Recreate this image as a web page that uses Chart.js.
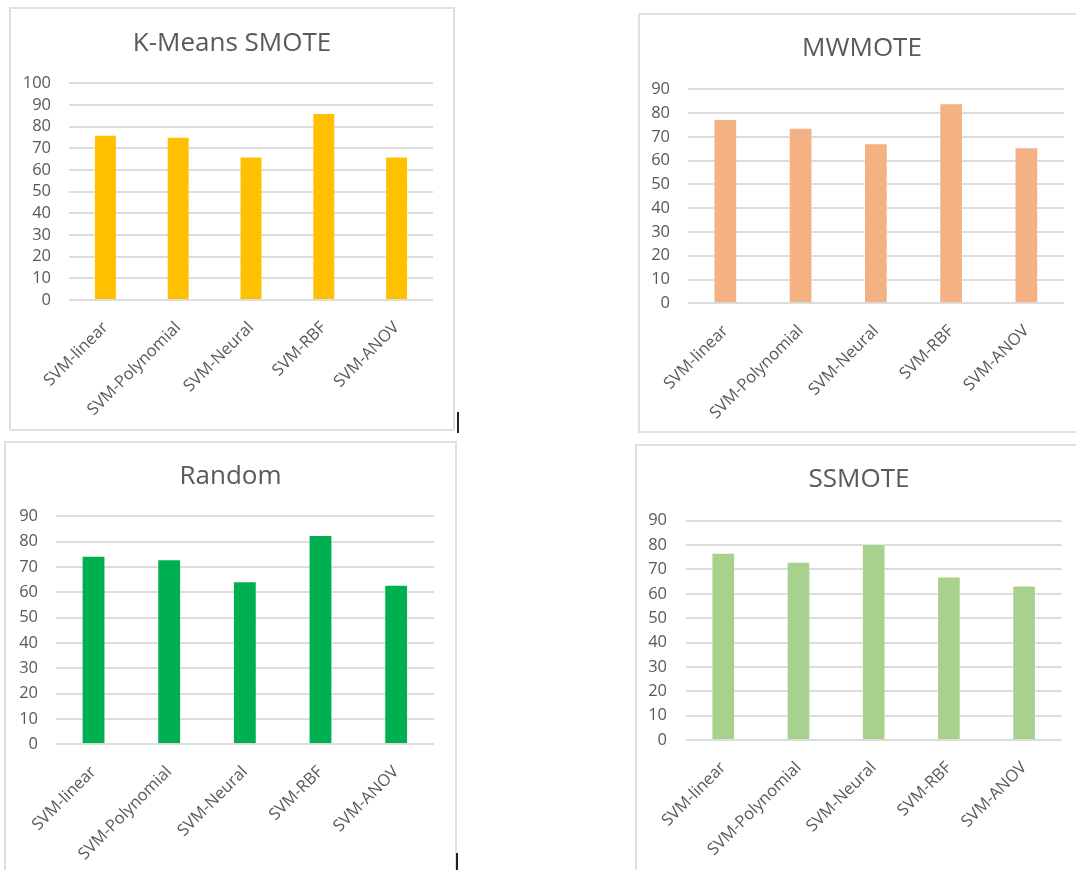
<!DOCTYPE html>
<html>
<head>
<meta charset="utf-8">
<title>SVM kernels by oversampling method</title>
<script src="https://cdn.jsdelivr.net/npm/chart.js@4/dist/chart.umd.min.js"></script>
<style>
  html, body { margin: 0; padding: 0; background: #fff; }
  body { width: 1076px; height: 870px; position: relative; overflow: hidden; }
  .panel { position: absolute; border: 2px solid #e0e0e0; background: #fff; }
  .panel canvas { display: block; }
  .caret { position: absolute; width: 2px; background: #222; }
</style>
</head>
<body>
  <div class="panel" style="left:9px; top:7px;"><canvas id="kmeans-smote" width="442" height="420"></canvas></div>
  <div class="panel" style="left:638px; top:13px;"><canvas id="mwmote" width="444" height="416"></canvas></div>
  <div class="panel" style="left:4px; top:441px;"><canvas id="random" width="449" height="440"></canvas></div>
  <div class="panel" style="left:635px; top:444px;"><canvas id="ssmote" width="444" height="440"></canvas></div>
  <div class="caret" style="left:457px; top:412px; height:21px;"></div>
  <div class="caret" style="left:456px; top:853px; height:17px;"></div>

<script>
// Accuracy (%) of each SVM kernel per oversampling method
const kernels = ["SVM-linear", "SVM-Polynomial", "SVM-Neural", "SVM-RBF", "SVM-ANOV"];

const kmeansSmoteScores = [76.2, 75.3, 66.2, 86.3, 66.2];
const mwmoteScores = [77.5, 73.8, 67.3, 84.1, 65.6];
const randomScores = [74.4, 73.0, 64.4, 82.6, 63.0];
const ssmoteScores = [76.8, 73.2, 80.4, 67.1, 63.4];

const kmeansSmoteMax = 100;
const defaultMax = 90;
const tickStep = 10;

const textColor = "#595959";
const gridColor = "#dcdcdc";
const fontFamily = "'Open Sans', 'Noto Sans', sans-serif";

// Chartjs wrapper for one bordered bar panel.
// An empty right-hand axis reserves the right margin, so the layout padding
// stays zero and the title is centred on the whole panel.
function barChart(canvasEl, title, values, color, layout) {
  if (!window?.Chart) return;
  new Chart(canvasEl, {
    type: "bar",
    data: {
      labels: kernels,
      datasets: [{
        label: title,
        data: values,
        backgroundColor: color,
        borderColor: "rgba(255,255,255,0.35)",
        borderWidth: 1,
        categoryPercentage: 1,
        barPercentage: 0.315,
      }],
    },
    options: {
      responsive: false,
      animation: false,
      devicePixelRatio: 1,
      layout: { padding: 0 },
      plugins: {
        legend: { display: false },
        tooltip: { enabled: false },
        title: {
          display: true,
          text: title,
          color: textColor,
          font: { family: fontFamily, size: 26, weight: "normal", lineHeight: 1.2 },
          padding: { top: layout.titleTop, bottom: layout.titleBottom },
        },
      },
      scales: {
        x: {
          grid: { display: false },
          border: { display: false },
          ticks: {
            color: textColor,
            font: { family: fontFamily, size: 16.5 },
            minRotation: 45,
            maxRotation: 45,
            padding: 10,
            autoSkip: false,
          },
          afterFit: (scale) => { scale.height = layout.xHeight; },
        },
        y: {
          min: 0,
          max: layout.max,
          grid: { color: gridColor, lineWidth: 2, drawTicks: false },
          border: { display: false },
          ticks: {
            stepSize: tickStep,
            autoSkip: false,
            color: textColor,
            font: { family: fontFamily, size: 16.5 },
            padding: layout.tickPad,
          },
          afterFit: (scale) => { scale.width = layout.plotLeft; },
        },
        margin: {
          type: "linear",
          position: "right",
          grid: { display: false },
          border: { display: false },
          ticks: { display: false },
          afterFit: (scale) => { scale.width = layout.right; },
        },
      },
    },
  });
}

barChart(document.querySelector("#kmeans-smote"), "K-Means SMOTE", kmeansSmoteScores, "#ffc000",
  { max: kmeansSmoteMax, plotLeft: 58, right: 20, titleTop: 19, titleBottom: 24.1, xHeight: 129, tickPad: 18 });

barChart(document.querySelector("#mwmote"), "MWMOTE", mwmoteScores, "#f4b183",
  { max: defaultMax, plotLeft: 47.7, right: 20, titleTop: 18.2, titleBottom: 24.9, xHeight: 127.7, tickPad: 17.7 });

barChart(document.querySelector("#random"), "Random", randomScores, "#00b050",
  { max: defaultMax, plotLeft: 49.7, right: 21, titleTop: 18, titleBottom: 24.1, xHeight: 138.7, tickPad: 17.7 });

barChart(document.querySelector("#ssmote"), "SSMOTE", ssmoteScores, "#a9d18e",
  { max: defaultMax, plotLeft: 48.7, right: 19.3, titleTop: 18, titleBottom: 25.5, xHeight: 146, tickPad: 18.7 });
</script>
</body>
</html>
